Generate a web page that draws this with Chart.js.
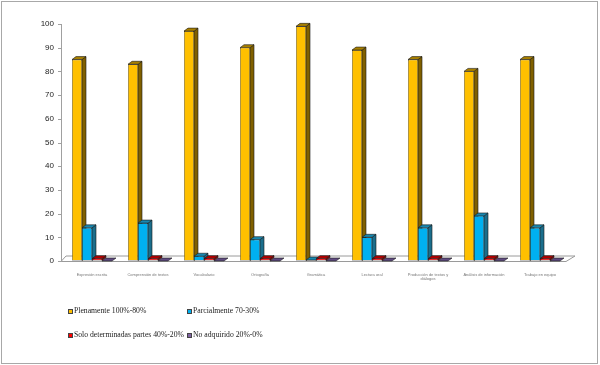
<!DOCTYPE html>
<html><head><meta charset="utf-8">
<script src="https://cdn.jsdelivr.net/npm/chart.js@4.4.1/dist/chart.umd.min.js"></script>
<style>
html,body{margin:0;padding:0;background:#fff;}
#wrap{position:relative;width:600px;height:365px;overflow:hidden;}
#frame{position:absolute;left:1px;top:1px;width:597px;height:363px;border:1px solid #a8a8a8;box-sizing:border-box;pointer-events:none;}
#c{position:absolute;left:0;top:0;}
.lg{position:absolute;font-family:"Liberation Serif","Times New Roman",serif;font-size:7.7px;color:#222;white-space:nowrap;line-height:10px;}
.sw{position:absolute;width:3px;height:3px;border:1px solid #444;}
</style></head>
<body><div id="wrap"><canvas id="c" width="600" height="365"></canvas><div id="frame"></div></div>
<script>
const categories = [
  "Expresión escrita",
  "Comprensión de textos",
  "Vocabulario",
  "Ortografía",
  "Gramática",
  "Lectura oral",
  ["Producción de textos y", "diálogos"],
  "Análisis de información",
  "Trabajo en equipo"
];
const seriesNames = ["Plenamente 100%-80%", "Parcialmente 70-30%", "Solo determinadas partes 40%-20%", "No adquirido 20%-0%"];
const plenamente   = [85, 83, 97, 90, 99, 89, 85, 80, 85];
const parcialmente = [14, 16, 2, 9, 0.4, 10, 14, 19, 14];
const soloPartes   = [1, 1, 1, 1, 1, 1, 1, 1, 1];
const noAdquirido  = [0, 0, 0, 0, 0, 0, 0, 0, 0];
const yTicks = [0, 10, 20, 30, 40, 50, 60, 70, 80, 90, 100];

const frontColors = ["#FFC000", "#00B0F0", "#FF0000", "#8064A2"];
const sideColors  = ["#806000", "#1B6E8C", "#8C0000", "#4A3A60"];
const topColors   = ["#A88000", "#1787B0", "#B00000", "#5F4A80"];
const seriesData = [plenamente, parcialmente, soloPartes, noAdquirido];

const DX = 4, DY = -3;
const depth3d = {
  id: 'depth3d',
  beforeDatasetsDraw(chart) {
    const ctx = chart.ctx, a = chart.chartArea;
    const ys = chart.scales.y;
    ctx.save();
    // floor
    ctx.beginPath();
    ctx.moveTo(a.left - 3, a.bottom + 0.5);
    ctx.lineTo(a.right - 2, a.bottom + 0.5);
    ctx.lineTo(a.right + 7, a.bottom - 5);
    ctx.lineTo(a.left + 2, a.bottom - 5);
    ctx.closePath();
    ctx.fillStyle = '#fff';
    ctx.fill();
    ctx.strokeStyle = '#9a9a9a';
    ctx.lineWidth = 1;
    ctx.stroke();
    // y axis line and ticks
    ctx.beginPath();
    ctx.moveTo(a.left - 2.5, a.top);
    ctx.lineTo(a.left - 2.5, a.bottom + 0.5);
    yTicks.forEach(v => {
      const py = Math.round(ys.getPixelForValue(v)) + 0.5;
      ctx.moveTo(a.left - 6, py);
      ctx.lineTo(a.left - 2.5, py);
    });
    ctx.strokeStyle = '#a0a0a0';
    ctx.stroke();
    // depth faces
    chart.data.datasets.forEach((ds, di) => {
      const meta = chart.getDatasetMeta(di);
      meta.data.forEach(el => {
        const p = el.getProps(['x', 'y', 'base', 'width'], true);
        const l = p.x - p.width / 2, r = p.x + p.width / 2;
        const top = Math.min(p.y, p.base), bot = Math.max(p.y, p.base);
        ctx.lineWidth = 0.6;
        ctx.strokeStyle = '#1a1a1a';
        if (bot - top > 0.01) {
          ctx.beginPath();
          ctx.moveTo(r, top);
          ctx.lineTo(r + DX, top + DY);
          ctx.lineTo(r + DX, bot + DY);
          ctx.lineTo(r, bot);
          ctx.closePath();
          ctx.fillStyle = sideColors[di];
          ctx.fill();
          ctx.stroke();
        }
        ctx.beginPath();
        ctx.moveTo(l, top);
        ctx.lineTo(r, top);
        ctx.lineTo(r + DX, top + DY);
        ctx.lineTo(l + DX, top + DY);
        ctx.closePath();
        ctx.fillStyle = topColors[di];
        ctx.fill();
        ctx.stroke();
      });
    });
    ctx.restore();
  }
};

new Chart(document.getElementById('c'), {
  type: 'bar',
  data: {
    labels: categories,
    datasets: seriesNames.map((n, i) => ({
      label: n,
      data: seriesData[i],
      backgroundColor: frontColors[i],
      borderColor: '#1a1a1a',
      borderWidth: 0.6,
      borderSkipped: false,
      barPercentage: 1,
      categoryPercentage: 40 / 56
    }))
  },
  options: {
    responsive: false,
    animation: false,
    events: [],
    layout: { padding: { top: 24, right: 32, left: 0, bottom: 0 } },
    plugins: { legend: { display: false }, tooltip: { enabled: false } },
    scales: {
      x: {
        grid: { display: false },
        border: { display: false },
        ticks: { font: { family: 'Liberation Sans', size: 4 }, color: '#777', padding: 3, maxRotation: 0, autoSkip: false },
        afterFit: s => { s.height = 104; }
      },
      y: {
        min: 0, max: 100,
        afterBuildTicks: s => { s.ticks = yTicks.map(v => ({ value: v })); },
        grid: { display: true, drawOnChartArea: false, drawTicks: false, tickLength: 0 },
        border: { display: false },
        ticks: { font: { family: 'Liberation Sans', size: 8 }, color: '#222', padding: 10 },
        afterFit: s => { s.width = 64; }
      }
    }
  },
  plugins: [depth3d]
});

// legend (HTML), two columns
const wrap = document.getElementById('wrap');
seriesNames.forEach((n, i) => {
  const col = i % 2, row = Math.floor(i / 2);
  const x = 68 + col * 119, y = 305.5 + row * 24;
  const sw = document.createElement('div');
  sw.className = 'sw';
  sw.style.left = x + 'px'; sw.style.top = (y + 3) + 'px';
  sw.style.background = frontColors[i];
  wrap.appendChild(sw);
  const t = document.createElement('div');
  t.className = 'lg';
  t.style.left = (x + 6) + 'px'; t.style.top = y + 'px';
  t.textContent = n;
  wrap.appendChild(t);
});
</script>
</body></html>
